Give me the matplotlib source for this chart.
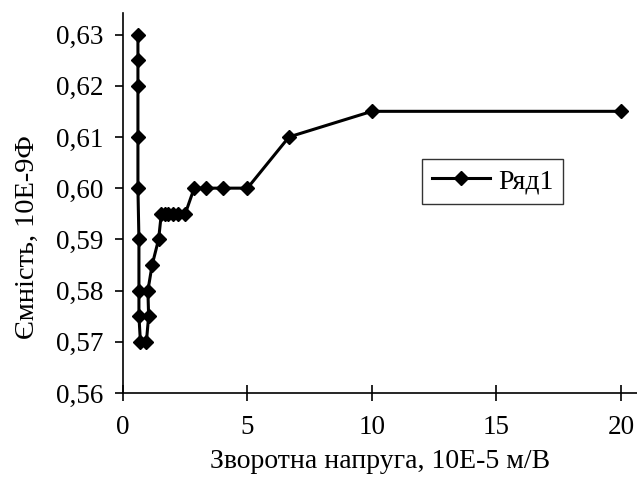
import matplotlib.pyplot as plt

# reverse voltage, 10E-5 m/V
x = [20.0, 10.0, 6.67, 5.0, 4.0, 3.33, 2.86, 2.5, 2.22, 2.0, 1.82, 1.67, 1.54,
     1.43, 1.17, 1.0, 1.03, 0.94, 0.70, 0.64, 0.64, 0.64, 0.60, 0.60, 0.60, 0.60, 0.60]
# capacitance, 10E-9 F
y = [0.615, 0.615, 0.610, 0.600, 0.600, 0.600, 0.600, 0.595, 0.595, 0.595, 0.595, 0.595, 0.595,
     0.590, 0.585, 0.580, 0.575, 0.570, 0.570, 0.575, 0.580, 0.590, 0.600, 0.610, 0.620, 0.625, 0.630]

xticks = [0, 5, 10, 15, 20]
yticks = [0.56, 0.57, 0.58, 0.59, 0.60, 0.61, 0.62, 0.63]

plt.rcParams['font.family'] = ['Liberation Serif', 'DejaVu Serif']

fig = plt.figure(figsize=(6.37, 4.83), dpi=100)
ax = fig.add_axes([123 / 637, 1 - 393 / 483, 1 - 123 / 637, (393 - 13) / 483])

ax.plot(x, y, color='black', lw=2.2, marker='D', ms=7.5, label='Ряд1')

ax.set_xlim(0, 20.65)
ax.set_ylim(0.56, 0.6342)
ax.set_xticks(xticks)
ax.set_xticklabels([str(t) for t in xticks])
ax.set_yticks(yticks)
ax.set_yticklabels([f'{t:.2f}'.replace('.', ',') for t in yticks])

for s in ['top', 'right']:
    ax.spines[s].set_visible(False)
for s in ['left', 'bottom']:
    ax.spines[s].set_linewidth(1.2)

ax.tick_params(axis='x', direction='inout', length=12, width=1.2, labelsize=19.5, pad=10)
ax.tick_params(axis='y', direction='out', length=6, width=1.2, labelsize=19.5, pad=8)

ax.set_xlabel('Зворотна напруга, 10E-5 м/В', fontsize=20, labelpad=6)
ax.set_ylabel('Ємність, 10E-9Ф', fontsize=20.5)
ax.yaxis.set_label_coords(-0.162, 0.41)

leg = ax.legend(loc='upper left', bbox_to_anchor=((422 - 123) / 514, (393 - 159) / 380),
                fontsize=20, frameon=True, fancybox=False, handlelength=2.1,
                borderpad=0.35, borderaxespad=0, handletextpad=0.3)
leg.get_frame().set_edgecolor('black')
leg.get_frame().set_linewidth(1.0)

fig.savefig('out.png', dpi=100)
